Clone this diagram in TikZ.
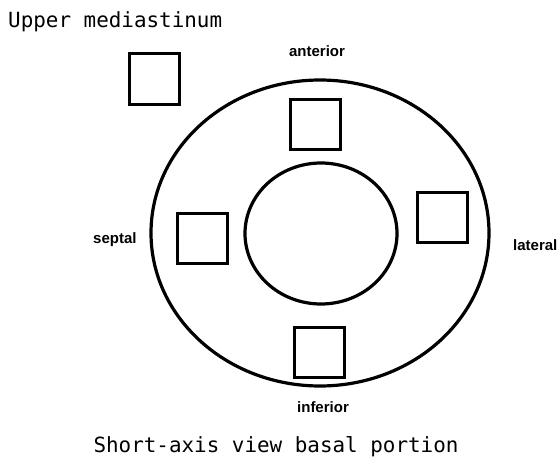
\documentclass[tikz,border=0pt]{standalone}
\usepackage{fontspec}
\setmainfont{Liberation Sans}
\newfontfamily\monofam{DejaVu Sans Mono}
\begin{document}
\begin{tikzpicture}[x=1pt,y=-1pt,
  box/.style={draw=black,line width=3pt,minimum width=50pt,minimum height=50pt,inner sep=0pt},
  ring/.style={draw=black,line width=3.2pt},
  lab/.style={inner sep=0pt,font=\bfseries\fontsize{15}{18}\selectfont},
  title/.style={inner sep=0pt,font=\monofam\fontsize{20.9}{24}\selectfont}]
\useasboundingbox (0,0) rectangle (557,460);
\node[title,anchor=base west] (top) at (8,28) {Upper mediastinum};
\node[title,anchor=base] (bottom) at (276,452) {Short-axis view basal portion};
\draw[ring] (320,233) ellipse [x radius=169, y radius=153];
\draw[ring] (321,233.5) ellipse [x radius=76, y radius=70.5];
\node[box] (um) at (154.5,79) {};
\node[box] (ant) at (315,124.5) {};
\node[box] (sep) at (202,238) {};
\node[box] (lat) at (442.5,217.5) {};
\node[box] (inf) at (319,352.5) {};
\node[lab,anchor=base] (tant) at (317,57) {anterior};
\node[lab,anchor=base] (tinf) at (323,412) {inferior};
\node[lab,anchor=base west] (tsep) at (93,243) {septal};
\node[lab,anchor=base west] (tlat) at (513,250) {lateral};
\end{tikzpicture}
\end{document}
